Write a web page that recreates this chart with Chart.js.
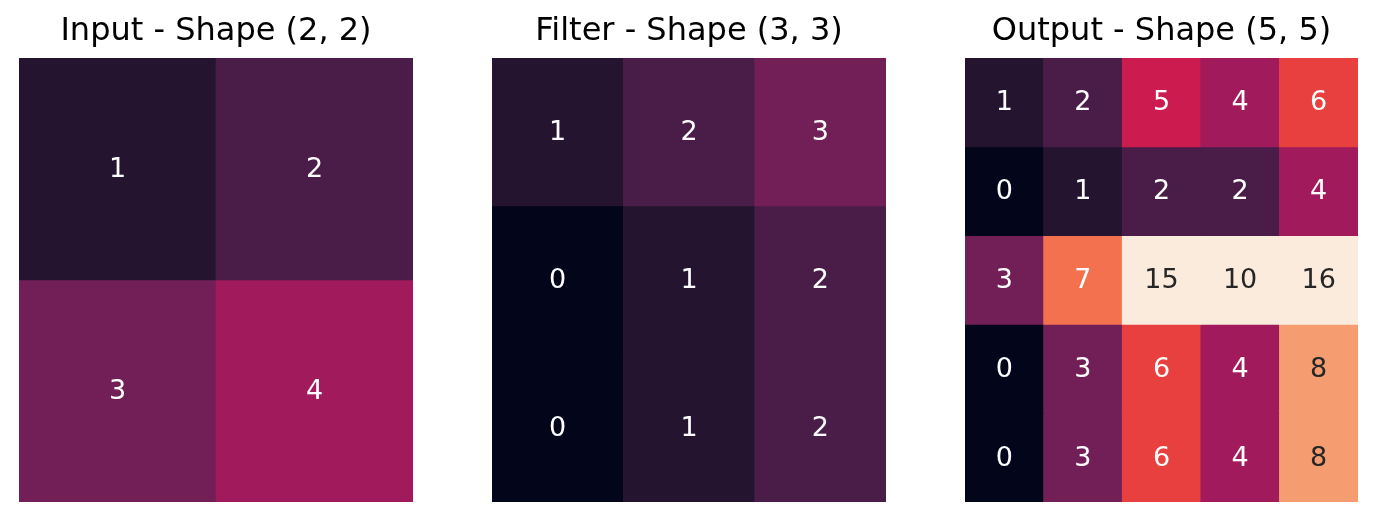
<!DOCTYPE html>
<html>
<head>
<meta charset="utf-8">
<script src="https://cdn.jsdelivr.net/npm/chart.js@4"></script>
<style>
  html, body { margin: 0; padding: 0; background: #ffffff; }
  body { width: 1377px; height: 521px; position: relative; overflow: hidden; }
  .box { position: absolute; top: 0; height: 502px; }
</style>
</head>
<body>
<div class="box" id="b0" style="left:19px;width:394px;"><canvas id="c0"></canvas></div>
<div class="box" id="b1" style="left:492px;width:394px;"><canvas id="c1"></canvas></div>
<div class="box" id="b2" style="left:965px;width:393px;"><canvas id="c2"></canvas></div>
<script>
// ---- data ----
const titles = ["Input - Shape (2, 2)", "Filter - Shape (3, 3)", "Output - Shape (5, 5)"];
const inputValues = [
  [1, 2],
  [3, 4]
];
const filterValues = [
  [1, 2, 3],
  [0, 1, 2],
  [0, 1, 2]
];
const outputValues = [
  [1, 2, 5, 4, 6],
  [0, 1, 2, 2, 4],
  [3, 7, 15, 10, 16],
  [0, 3, 6, 4, 8],
  [0, 3, 6, 4, 8]
];

// ---- style: rocket-like colour lookup (vmin 0, vmax 9) ----
const rocketSteps = ["#03051a", "#24142f", "#4a1c48", "#731f57", "#a11a5b",
                     "#cb1b4f", "#e8403e", "#f3714f", "#f59c70", "#faebdd"];
function cellColor(v) { return rocketSteps[Math.max(0, Math.min(rocketSteps.length - 1, v))]; }
function textColor(v) { return v >= 8 ? "#262626" : "#ffffff"; }

const annotatePlugin = {
  id: "annotate",
  afterDatasetsDraw(chart) {
    const ctx = chart.ctx;
    const grid = chart.config.options.plugins.annotate.grid;
    ctx.save();
    ctx.font = "27px 'DejaVu Sans'";
    ctx.textAlign = "center";
    ctx.textBaseline = "middle";
    chart.data.datasets.forEach((ds, r) => {
      const meta = chart.getDatasetMeta(r);
      meta.data.forEach((el, c) => {
        const v = grid[r][c];
        ctx.fillStyle = textColor(v);
        ctx.fillText(String(v), el.x, (el.y + el.base) / 2 + 1);
      });
    });
    ctx.restore();
  }
};

function makeHeatmap(canvasId, title, grid) {
  const nRows = grid.length;
  const labels = grid[0].map((_, c) => String(c));
  const datasets = grid.map((row, r) => ({
    label: "row " + r,
    data: row.map(() => [r, r + 1]),
    backgroundColor: row.map(cellColor),
    borderWidth: 0,
    barPercentage: 1,
    categoryPercentage: 1,
    grouped: false
  }));
  new Chart(document.getElementById(canvasId), {
    type: "bar",
    data: { labels, datasets },
    options: {
      responsive: true,
      maintainAspectRatio: false,
      animation: false,
      layout: { padding: 0 },
      scales: {
        x: { display: false, offset: true },
        y: { display: false, min: 0, max: nRows, reverse: true }
      },
      plugins: {
        legend: { display: false },
        tooltip: { enabled: false },
        title: {
          display: true,
          text: title,
          color: "#000000",
          font: { family: "'DejaVu Sans'", size: 32, weight: "normal", lineHeight: 1.2 },
          padding: { top: 12, bottom: 7.6 }
        },
        annotate: { grid }
      }
    },
    plugins: [annotatePlugin]
  });
}

makeHeatmap("c0", titles[0], inputValues);
makeHeatmap("c1", titles[1], filterValues);
makeHeatmap("c2", titles[2], outputValues);
</script>
</body>
</html>
